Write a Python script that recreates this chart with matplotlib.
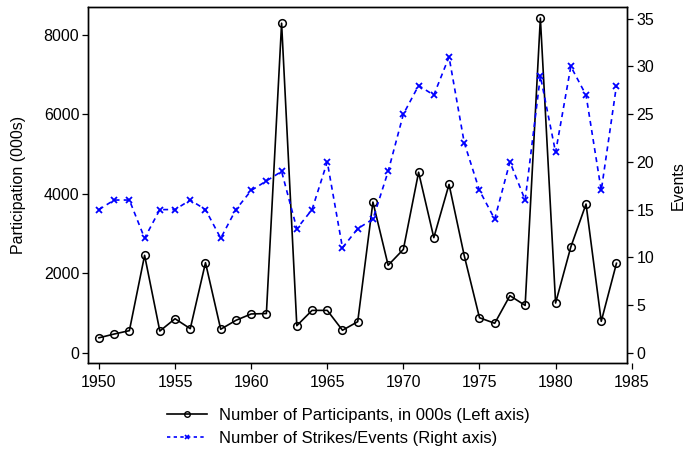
import numpy as np
import matplotlib
matplotlib.use('Agg')
import matplotlib.pyplot as plt
from matplotlib.lines import Line2D

plt.rcParams['font.family'] = ['Liberation Sans', 'DejaVu Sans']
plt.rcParams['font.size'] = 11.5

# ==================== data ====================
years = list(range(1950, 1985))
participants = [370, 465, 550, 2445, 540, 850, 600, 2260, 585, 810,
                970, 980, 8285, 675, 1060, 1060, 560, 775, 3785, 2195,
                2595, 4535, 2890, 4230, 2435, 875, 735, 1430, 1185, 8415,
                1245, 2655, 3735, 785, 2245]
events = [15, 16, 16, 12, 15, 15, 16, 15, 12, 15,
          17, 18, 19, 13, 15, 20, 11, 13, 14, 19,
          25, 28, 27, 31, 22, 17, 14, 20, 16, 29,
          21, 30, 27, 17, 28]
x_ticks = list(range(1950, 1990, 5))
left_ticks = [0, 2000, 4000, 6000, 8000]
right_ticks = [0, 5, 10, 15, 20, 25, 30, 35]
# =============================================

fig = plt.figure(figsize=(6.87, 4.51), dpi=100)
ax = fig.add_axes([0.1285, 0.1951, 0.791, 0.7883])
ax2 = ax.twinx()

x_lo, x_frame, x_hi = 1949.3, 1984.72, 1985.0

ax.plot(years, participants, color='black', lw=1.2, marker='o', ms=5.5,
        mfc='none', mec='black', mew=1.1, zorder=3)
ax2.plot(years, events, color='#0000ff', lw=1.2, ls=(0, (3, 2.5)),
         marker='x', ms=4, mew=1.3, zorder=3)

ax.set_xlim(x_lo, x_hi)
ax.set_ylim(-264, 8680)
ax2.set_ylim(-1.08, 36.18)
ax.set_xticks(x_ticks)
ax.set_yticks(left_ticks)
ax2.set_yticks(right_ticks)

for a in (ax, ax2):
    a.spines['top'].set_bounds(x_lo, x_frame)
    a.spines['bottom'].set_bounds(x_lo, x_frame)
    a.spines['right'].set_position(('data', x_frame))
    a.tick_params(direction='out', length=4.5, width=0.9, labelsize=11.5, pad=2)
    for s in a.spines.values():
        s.set_linewidth(1.0)
ax.tick_params(axis='x', pad=4)

ax.set_ylabel('Participation (000s)', fontsize=11.5, labelpad=13)
ax2.set_ylabel('Events', fontsize=11.5, labelpad=12)

handles = [
    Line2D([], [], color='black', lw=1.2, marker='o', ms=4, mfc='none', mew=1.0),
    Line2D([], [], color='#0000ff', lw=1.2, ls=(0, (2, 2)), marker='x', ms=3.5, mew=1.2),
]
labels = ['Number of Participants, in 000s (Left axis)',
          'Number of Strikes/Events (Right axis)']
fig.legend(handles, labels, loc='center', bbox_to_anchor=(0.507, 0.053),
           frameon=False, fontsize=12, handlelength=2.4, handletextpad=0.7,
           labelspacing=0.5, borderpad=0)

fig.savefig('out.png', dpi=100)
